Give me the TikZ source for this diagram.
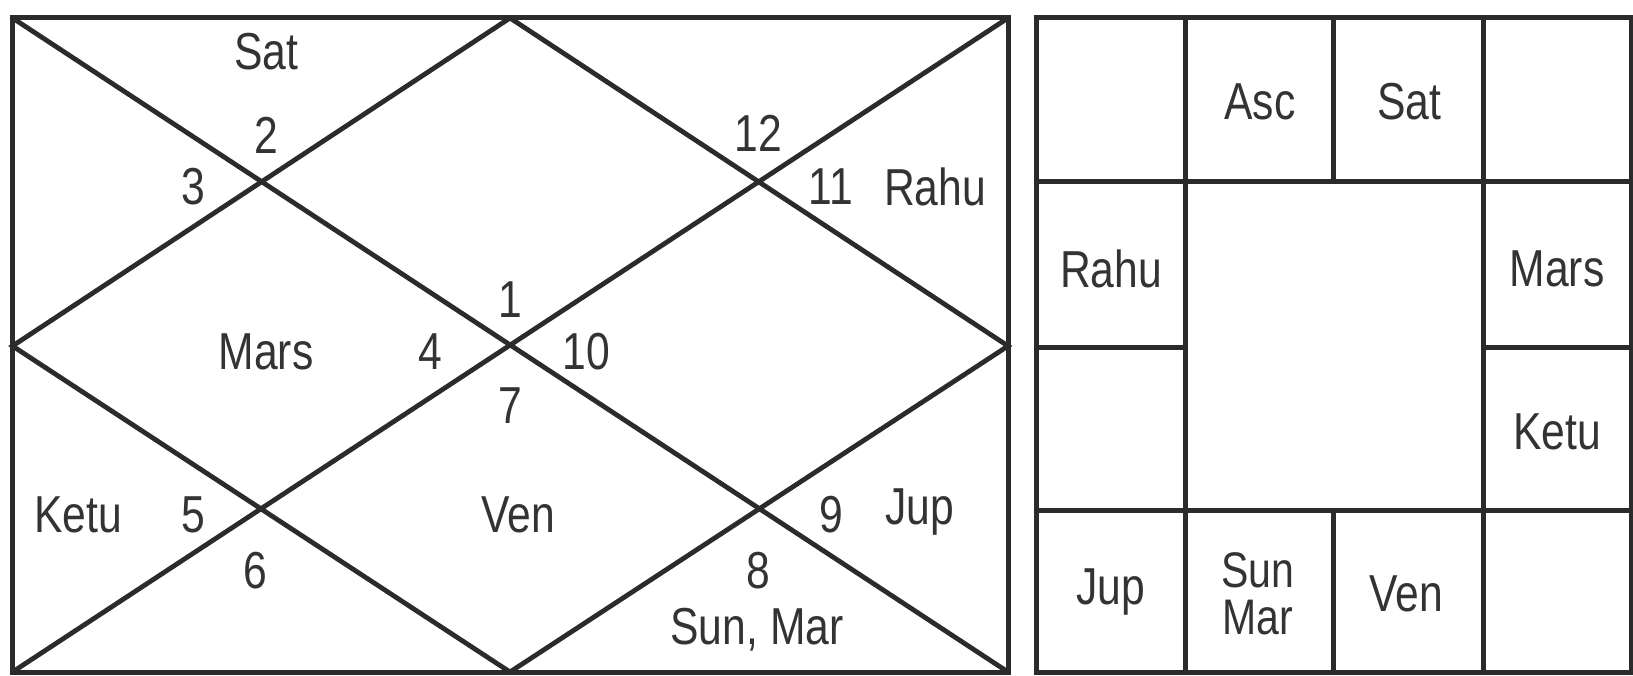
\documentclass[tikz,border=0pt]{standalone}
\usepackage{fontspec}
\setmainfont{Liberation Sans}[FakeStretch=0.82]
\definecolor{ink}{HTML}{2B2B2B}
\definecolor{txt}{HTML}{333333}
\begin{document}
\begin{tikzpicture}[x=1pt,y=-1pt,
  frame/.style={draw=ink,line width=5pt,line cap=rect,line join=miter},
  diag/.style={draw=ink,line width=4.8pt},
  lbl/.style={text=txt,font=\fontsize{52}{54}\selectfont,inner sep=0pt,anchor=center},
  lbl2/.style={lbl,align=center,font=\fontsize{50}{47}\selectfont}]
\useasboundingbox (0,0) rectangle (1633,676);
% left chart corners
\coordinate (LTL) at (12.5,18);
\coordinate (LTR) at (1008,18);
\coordinate (LBL) at (12.5,672);
\coordinate (LBR) at (1008,672);
\coordinate (LT) at (510,18);
\coordinate (LR) at (1008,346);
\coordinate (LB) at (510,672);
\coordinate (LL) at (12.5,346);
\draw[diag] (LTL) -- (LBR);
\draw[diag] (LTR) -- (LBL);
\draw[diag] (LT) -- (LR) -- (LB) -- (LL) -- cycle;
\draw[frame] (LTL) rectangle (LBR);
% left labels
\node[lbl] (sat) at (266,52) {Sat};
\node[lbl] (h2) at (266,135) {2};
\node[lbl] (h3) at (193,187) {3};
\node[lbl] (h12) at (758,133) {12};
\node[lbl] (h11) at (831,187) {11};
\node[lbl] (rahu) at (935,187) {Rahu};
\node[lbl] (h1) at (510,300) {1};
\node[lbl] (mars) at (266,352) {Mars};
\node[lbl] (h4) at (430,352) {4};
\node[lbl] (h10) at (586,352) {10};
\node[lbl] (h7) at (510,406) {7};
\node[lbl] (ketu) at (78,515) {Ketu};
\node[lbl] (h5) at (193,515) {5};
\node[lbl] (ven) at (518,515) {Ven};
\node[lbl] (h9) at (831,515) {9};
\node[lbl] (jup) at (920,512) {Jup};
\node[lbl] (h6) at (255,571) {6};
\node[lbl] (h8) at (758,571) {8};
\node[lbl] (sunmar) at (757,630) {Sun, Mar};
% right chart
\coordinate (RTL) at (1036,18);
\coordinate (RBR) at (1631,672);
\coordinate (c1t) at (1185,18); \coordinate (c1b) at (1185,672);
\coordinate (c3t) at (1483,18); \coordinate (c3b) at (1483,672);
\coordinate (c2t) at (1333,18); \coordinate (c2a) at (1333,182);
\coordinate (c2c) at (1333,510); \coordinate (c2b) at (1333,672);
\coordinate (r1l) at (1036,182); \coordinate (r1r) at (1631,182);
\coordinate (r3l) at (1036,510); \coordinate (r3r) at (1631,510);
\coordinate (r2l) at (1036,347); \coordinate (r2a) at (1185,347);
\coordinate (r2b) at (1483,347); \coordinate (r2r) at (1631,347);
\draw[frame] (c1t) -- (c1b);
\draw[frame] (c3t) -- (c3b);
\draw[frame] (c2t) -- (c2a);
\draw[frame] (c2c) -- (c2b);
\draw[frame] (r1l) -- (r1r);
\draw[frame] (r3l) -- (r3r);
\draw[frame] (r2l) -- (r2a);
\draw[frame] (r2b) -- (r2r);
\draw[frame] (RTL) rectangle (RBR);
\node[lbl] (asc) at (1260,102) {Asc};
\node[lbl] (sat2) at (1409,102) {Sat};
\node[lbl] (rahu2) at (1111,269) {Rahu};
\node[lbl] (mars2) at (1557,269) {Mars};
\node[lbl] (ketu2) at (1557,432) {Ketu};
\node[lbl] (jup2) at (1111,592) {Jup};
\node[lbl2] (sunmar2) at (1258,594) {Sun\\Mar};
\node[lbl] (ven2) at (1406,594) {Ven};
\end{tikzpicture}
\end{document}
